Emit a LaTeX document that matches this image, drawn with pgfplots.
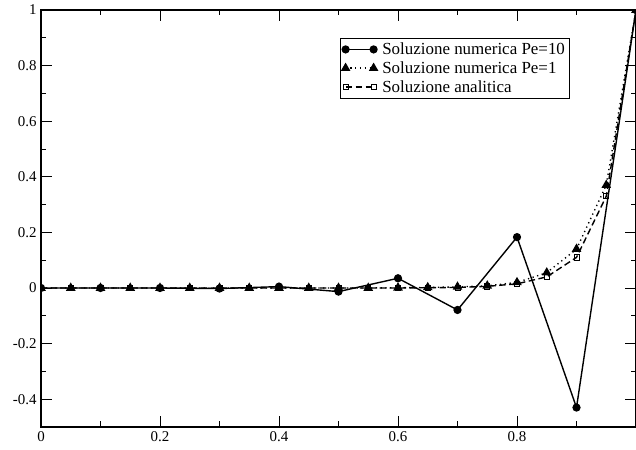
\documentclass[border=0pt]{standalone}
\usepackage{fontspec}
\setmainfont{Liberation Serif}
\usepackage{pgfplots}
\pgfplotsset{compat=1.18}
\usetikzlibrary{calc}

\begin{document}
\begin{tikzpicture}
\begin{axis}[
  name=ax,
  scale only axis,
  width=595bp, height=417bp,
  xmin=0, xmax=1,
  ymin=-0.5, ymax=1,
  xtick={0,0.2,0.4,0.6,0.8},
  xticklabels={0,0.2,0.4,0.6,0.8},
  ytick={-0.4,-0.2,0,0.2,0.4,0.6,0.8,1},
  yticklabels={-0.4,-0.2,0,0.2,0.4,0.6,0.8,1},
  minor xtick={0.1,0.3,0.5,0.7,0.9},
  minor ytick={-0.5,-0.3,-0.1,0.1,0.3,0.5,0.7,0.9},
  tick align=inside,
  major tick length=11bp,
  minor tick length=5.5bp,
  every tick/.style={black, line width=0.9pt},
  axis line style={line width=1.2pt},
  tick label style={font=\fontsize{15}{17}\selectfont},
  xticklabel style={yshift=-1bp},
  yticklabel style={xshift=-1bp},
  legend style={at={(rel axis cs:0.502,0.934)}, anchor=north west,
    font=\fontsize{17}{19}\selectfont, draw=black, line width=0.6pt,
    inner xsep=2pt, inner ysep=3pt, row sep=1.5bp, cells={anchor=west}},
  legend image code/.code={%
    \draw[mark repeat=2, mark phase=1, #1] plot coordinates {(0bp,0bp) (14bp,0bp) (28bp,0bp)};
    \path (34bp,0bp);},
  clip=true,
  clip marker paths=true,
]

% Pe = 10
\addplot[black, line width=1.4pt, mark=*, mark size=3.4pt, mark options={solid}] coordinates {
  (0,0) (0.1,0) (0.2,0) (0.3,-0.002) (0.4,0.005) (0.5,-0.013)
  (0.6,0.035) (0.7,-0.079) (0.8,0.183) (0.9,-0.43) (1,1)
};
\addlegendentry{Soluzione numerica Pe=10}

% Pe = 1
\addplot[black, line width=1.4pt, dash pattern=on 1.3pt off 3.5pt, mark=triangle*, mark size=4.2pt, mark options={solid}] coordinates {
  (0,0) (0.05,0) (0.1,0) (0.15,0) (0.2,0) (0.25,0) (0.3,0) (0.35,0)
  (0.4,0) (0.45,0) (0.5,0) (0.55,0) (0.6,0.001) (0.65,0.002) (0.7,0.004)
  (0.75,0.008) (0.8,0.02) (0.85,0.055) (0.9,0.14) (0.95,0.37) (1,1)
};
\addlegendentry{Soluzione numerica Pe=1}

% analitica
\addplot[black, line width=1.4pt, dash pattern=on 6.5pt off 3.5pt, mark=square, mark size=2.6pt, mark options={solid, fill=white, line width=0.7pt}] coordinates {
  (0,0) (0.05,0) (0.1,0) (0.15,0) (0.2,0) (0.25,0) (0.3,0) (0.35,0)
  (0.4,0) (0.45,0) (0.5,0) (0.55,0) (0.6,0) (0.65,0.001) (0.7,0.002)
  (0.75,0.006) (0.8,0.015) (0.85,0.04) (0.9,0.11) (0.95,0.33) (1,1)
};
\addlegendentry{Soluzione analitica}

\end{axis}
\pgfresetboundingbox
\path[use as bounding box] ($(ax.south west)+(-41bp,-23bp)$) rectangle ($(ax.north east)+(0bp,10bp)$);
\end{tikzpicture}
\end{document}
